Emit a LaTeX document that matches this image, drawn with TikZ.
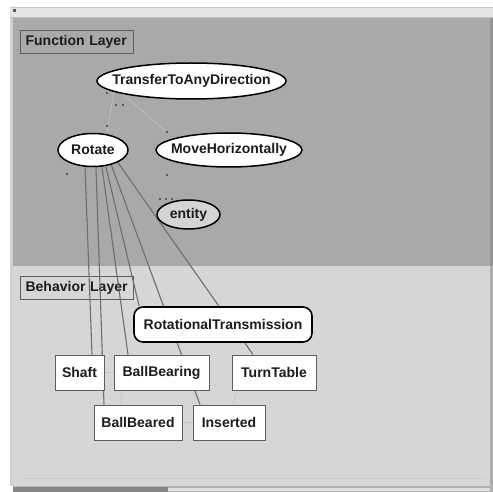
\documentclass[tikz,border=0pt]{standalone}
\usepackage{fontspec}
\setmainfont{Liberation Sans}
\usetikzlibrary{shapes.geometric}
\pgfdeclarelayer{back}
\pgfdeclarelayer{wires}
\pgfsetlayers{back,wires,main}
\definecolor{funcbg}{HTML}{A9A9A9}
\definecolor{behbg}{HTML}{D6D6D6}
\definecolor{barbg}{HTML}{E3E3E3}
\definecolor{edgedark}{HTML}{6E6E6E}
\definecolor{edgefaint}{HTML}{BEBEBE}
\definecolor{edgefaintb}{HTML}{C6C6C6}
\definecolor{boxline}{HTML}{5E5E5E}
\definecolor{inkc}{HTML}{1C1C1C}
\definecolor{handle}{HTML}{5A5A5A}
\definecolor{entityfill}{HTML}{D4D4D4}
\begin{document}
\begin{tikzpicture}[x=1pt,y=-1pt,
  lbl/.style={font=\bfseries\fontsize{14}{16}\selectfont, text=inkc},
  funcnode/.style={lbl, ellipse, draw=black, line width=1.5pt, fill=white,
    inner sep=0pt},
  compbox/.style={lbl, rectangle, draw=boxline, line width=1pt, fill=white,
    inner sep=0pt, minimum height=35pt},
  layerbox/.style={lbl, rectangle, draw=boxline, line width=1.2pt,
    inner xsep=5pt, inner ysep=0pt, text width=103pt, align=left,
    minimum height=23pt, anchor=north west},
  wire/.style={draw=edgedark, line width=1.1pt},
  faintwire/.style={draw=edgefaint, line width=0.8pt},
  faintwireb/.style={draw=edgefaintb, line width=0.8pt},
  handlemark/.style={fill=handle}
]
\useasboundingbox (0,0) rectangle (493,492);

% window background and the two layer areas
\begin{pgfonlayer}{back}
  \fill[white] (0,0) rectangle (493,492);
  \fill[barbg] (10,7) rectangle (493,17);
  \draw[color=black!22, line width=0.8pt] (10,7.5) -- (493,7.5);
  \fill[handle] (13,9.5) rectangle (16,12);
  \fill[black!25] (10,17) rectangle (493,18.5);
  \fill[black!18] (10,18) rectangle (12.5,486);
  \fill[funcbg] (12.5,18.5) rectangle (490,266);
  \fill[behbg] (12.5,266) rectangle (490,486);
  \fill[black!42] (490,18.5) rectangle (493,266);
  \fill[black!32] (490,266) rectangle (493,486);
  \draw[color=black!20, line width=0.6pt] (20,478) -- (485,478);
  \fill[black!30] (12.5,486) rectangle (493,492);
  \fill[black!48] (13,487) rectangle (168,492);
  \fill[black!12] (168,487.5) rectangle (490,491);

  % layer captions
  \node[layerbox] (fnlayer) at (20,30) {Function Layer};
  \node[layerbox] (bhlayer) at (20,276) {Behavior Layer};
\end{pgfonlayer}

% function layer
\node[funcnode, minimum width=189pt, minimum height=36pt] (ttad) at (191.5,81)
  {\makebox[0pt]{TransferToAnyDirection}};
\node[funcnode, minimum width=70pt, minimum height=33pt] (rot) at (93,150)
  {\makebox[0pt]{Rotate}};
\node[funcnode, minimum width=146pt, minimum height=34pt] (mh) at (229,150)
  {\makebox[0pt]{MoveHorizontally}};
\node[funcnode, fill=entityfill, minimum width=63pt, minimum height=29pt] (ent)
  at (188.5,214.5) {\makebox[0pt]{entity}};

% behavior layer
\node[lbl, rectangle, rounded corners=9pt, draw=black, line width=1.6pt,
  fill=white, inner sep=0pt, minimum width=178pt, minimum height=35pt] (rt)
  at (223,324.5) {RotationalTransmission};
\node[compbox, minimum width=49pt] (shaft) at (79.5,372.5) {Shaft};
\node[compbox, minimum width=95pt] (bb) at (161.5,372.5) {BallBearing};
\node[compbox, minimum width=84pt] (tt) at (274,372.5) {TurnTable};
\node[compbox, minimum width=88pt] (bbd) at (138,422.5) {BallBeared};
\node[compbox, minimum width=72pt] (ins) at (229,422.5) {Inserted};

% connectors
\begin{pgfonlayer}{wires}
  % refinement links in the function layer
  \draw[faintwire] ([xshift=-76pt]ttad.center) -- ([xshift=14pt]rot.north);
  \draw[faintwire] ([xshift=-84pt]ttad.center) -- ([xshift=-62pt]mh.north);
  % realisation links from Rotate down to the behavior layer
  \draw[wire] ([xshift=-8.6pt]rot.center) -- ([xshift=12.5pt]shaft.north);
  \draw[wire] ([xshift=2.4pt]rot.center) -- ([xshift=-34pt]bbd.north);
  \draw[wire] ([xshift=6.6pt]rot.center) -- ([xshift=-33.5pt]bb.north);
  \draw[wire] ([xshift=8.9pt]rot.center) -- ([xshift=6pt]rt.north west);
  \draw[wire] ([xshift=12.7pt]rot.center) -- ([xshift=-29pt]ins.north);
  \draw[wire] ([xshift=16pt]rot.center) -- ([xshift=-21pt]tt.north);
  % relations among the behaviors
  \draw[faintwireb] (shaft) -- (bb);
  \draw[faintwireb] (bbd) -- (ins);
  \draw[faintwireb] ([xshift=-37pt]tt.south) -- ([xshift=4pt]ins.north);
  \draw[faintwireb] ([xshift=-40pt]bb.south) -- ([xshift=-17pt]bbd.north);
\end{pgfonlayer}

% connection handles
\foreach \hx/\hy in {116/105, 123/105, 107/93, 107/126, 167/132, 67/174,
                     167/175, 160/199, 166/199, 172/199}
  \fill[handlemark] (\hx-1.3,\hy-1.3) rectangle (\hx+1.3,\hy+1.3);
\end{tikzpicture}
\end{document}
